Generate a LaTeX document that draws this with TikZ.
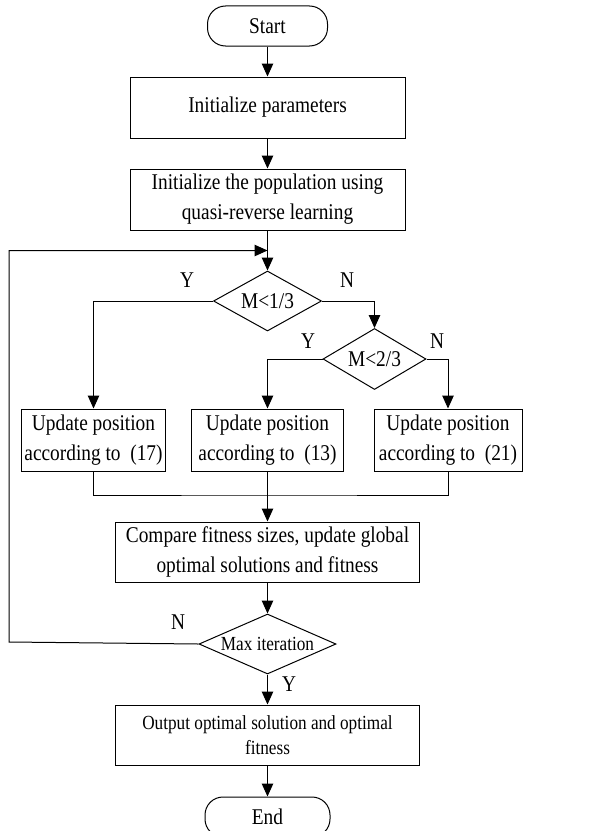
\documentclass[tikz,border=0pt]{standalone}
\usepackage{fontspec}
\setmainfont{Liberation Serif}[FakeStretch=0.86]
\usetikzlibrary{positioning, arrows.meta, shapes.geometric, calc}
\tikzstyle{term}=[draw, rounded corners=18bp, align=center, minimum height=40bp, minimum width=120bp]
\tikzstyle{proc}=[draw, align=center, minimum height=61bp, minimum width=275bp]
\tikzstyle{decide}=[draw, diamond, inner sep=0pt, shape aspect=1.8, minimum width=108bp, minimum height=60bp]
\tikzstyle{lbl}=[inner sep=0pt]
\tikzstyle{ar}=[-{Triangle[length=13bp, width=11.5bp]}]

\begin{document}
\begin{tikzpicture}[x=1bp, y=1bp, line width=1bp,
    every node/.style={font=\fontsize{22.5bp}{30bp}\selectfont},
    small/.style={font=\fontsize{20bp}{25bp}\selectfont}]
    \useasboundingbox (0,0) rectangle (600,-831);
    \node[term] (start) at (267.5,-26) {Start};
    \node[proc, below=30bp of start] (init) {Initialize parameters};
    \node[proc, below=30bp of init]  (pop)  {Initialize the population using\\quasi-reverse learning};
    \node[decide, below=40bp of pop] (m1)   {M<1/3};
    \node[decide, minimum width=103bp, minimum height=61bp] (m2) at (374.5,-359) {M<2/3};
    \node[proc, minimum width=143bp, minimum height=62bp] (upd17) at (93.5,-440)  {Update position\\according to~~(17)};
    \node[proc, minimum width=152bp, minimum height=62bp] (upd13) at (267.5,-440) {Update position\\according to~~(13)};
    \node[proc, minimum width=148bp, minimum height=62bp] (upd21) at (448,-440)   {Update position\\according to~~(21)};
    \node[proc, minimum width=304bp, minimum height=60bp, below=50bp of upd13] (cmp) {Compare fitness sizes, update global\\optimal solutions and fitness};
    \node[decide, small, shape aspect=2.3, minimum width=137bp, below=31bp of cmp] (mx) {Max iteration};
    \node[proc, small, minimum width=304bp, minimum height=60bp, below=30bp of mx] (out) {Output optimal solution and optimal\\fitness};
    \node[term, minimum width=125bp, below=31bp of out] (fin) {End};
    % branch labels
    \node[lbl] (y1) at (187,-280) {Y};
    \node[lbl] (n1) at (347,-280) {N};
    \node[lbl] (y2) at (308,-341) {Y};
    \node[lbl] (n2) at (437,-341) {N};
    \node[lbl] (n3) at (178,-622) {N};
    \node[lbl] (y3) at (289,-684) {Y};
    \coordinate (back) at ($(pop.south)!0.5!(m1.north)$);
    \coordinate (lft)  at (9,-642);
    \coordinate (join) at (267.5,-495);
    \draw[ar] (start) -- (init); \draw[ar] (init) -- (pop);
    \draw[ar] (pop) -- (m1);
    \draw[ar] (m1.west) -| (upd17.north); \draw[ar] (m1.east) -| (m2.north);
    \draw[ar] (m2.west) -| (upd13.north); \draw[ar] (m2.east) -| (upd21.north);
    \draw (upd17.south) |- (join) -| (upd21.south);
    \draw[ar] (upd13.south) -- (cmp.north);
    \draw[ar] (cmp) -- (mx); \draw[ar] (mx) -- (out); \draw[ar] (out) -- (fin);
    \draw[ar] (mx.west) -- (lft) |- (back);
  \end{tikzpicture}
\end{document}
